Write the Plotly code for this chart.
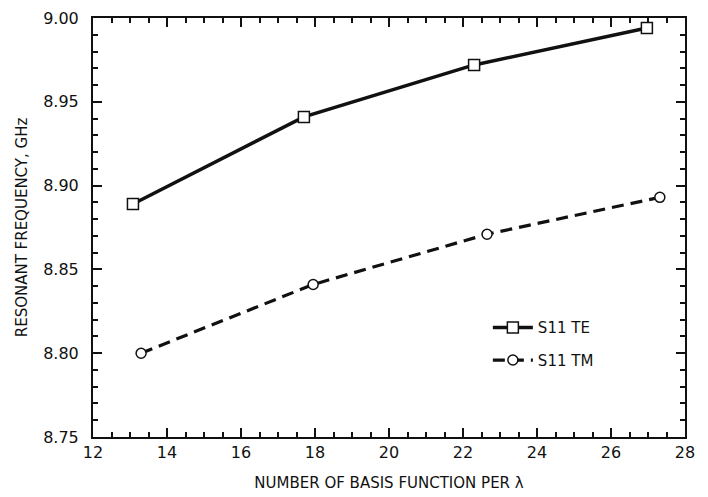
import plotly.graph_objects as go

te_x = [13.08, 17.70, 22.30, 26.97]
te_y = [8.889, 8.941, 8.972, 8.994]
tm_x = [13.30, 17.95, 22.65, 27.32]
tm_y = [8.800, 8.841, 8.871, 8.893]

x_ticks = [12, 14, 16, 18, 20, 22, 24, 26, 28]
y_ticks = [8.75, 8.80, 8.85, 8.90, 8.95, 9.00]
y_tick_labels = ["8.75", "8.80", "8.85", "8.90", "8.95", "9.00"]

x_minor = [12 + 0.5 * i for i in range(33)]
y_minor = [round(8.75 + 0.01 * i, 2) for i in range(26)]

font_family = "DejaVu Sans, Liberation Sans, Arial, sans-serif"
ink = "#111111"

fig = go.Figure()
fig.add_trace(go.Scatter(
    x=te_x, y=te_y, mode="lines+markers", name="S11 TE",
    legendgroup="te",
    line=dict(color=ink, width=3.5),
    marker=dict(symbol="square", size=11, color="white",
                line=dict(color=ink, width=1.5)),
))
fig.add_trace(go.Scatter(
    x=tm_x, y=tm_y, mode="lines+markers", name="S11 TM",
    legendgroup="tm",
    line=dict(color=ink, width=3.2, dash="12px,7px"),
    marker=dict(symbol="circle", size=10, color="white",
                line=dict(color=ink, width=1.5)),
))

axis_common = dict(
    showgrid=False, zeroline=False, showline=True, linecolor=ink,
    linewidth=2, mirror="ticks", ticks="inside", tickcolor=ink,
    tickwidth=2, ticklen=9, automargin=False, ticklabeloverflow="allow",
    tickfont=dict(family=font_family, size=16, color=ink),
)

fig.update_xaxes(
    range=[12, 28], tickmode="array", tickvals=x_ticks,
    minor=dict(tickmode="array", tickvals=x_minor, ticks="inside",
               ticklen=5, tickcolor=ink, tickwidth=1.5),
    title=dict(text="NUMBER OF BASIS FUNCTION PER λ",
               font=dict(family=font_family, size=15, color=ink), standoff=16),
    **axis_common,
)
fig.update_yaxes(
    range=[8.75, 9.00], tickmode="array", tickvals=y_ticks, ticktext=y_tick_labels,
    minor=dict(tickmode="array", tickvals=y_minor, ticks="inside",
               ticklen=5, tickcolor=ink, tickwidth=1.5),
    ticklabelstandoff=9,
    title=dict(text="RESONANT FREQUENCY, GHz",
               font=dict(family=font_family, size=15, color=ink), standoff=12),
    **axis_common,
)

fig.update_layout(
    width=708, height=497,
    margin=dict(l=85, r=31, t=10, b=68),
    paper_bgcolor="white", plot_bgcolor="white",
    showlegend=True,
    legend=dict(
        x=0.667, y=0.30, xanchor="left", yanchor="top",
        bgcolor="rgba(0,0,0,0)", borderwidth=0,
        font=dict(family=font_family, size=15, color=ink),
        traceorder="grouped", tracegroupgap=10,
        itemwidth=40,
    ),
)

fig.write_html("out.html")
